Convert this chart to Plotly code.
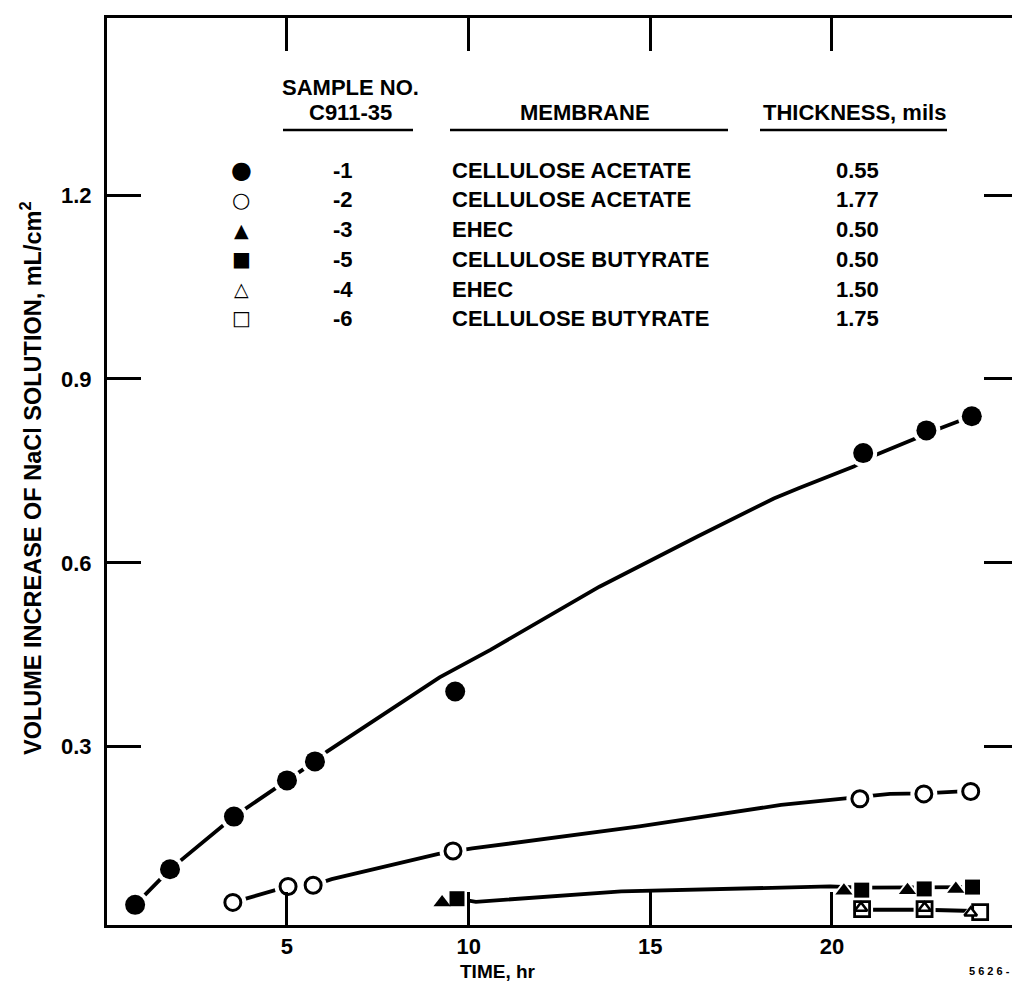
import plotly.graph_objects as go

# ---------------- data ----------------
# Sample -1 (filled circles), cellulose acetate 0.55 mil
s1_x = [0.82, 1.78, 3.54, 5.0, 5.77, 9.63, 20.86, 22.6, 23.85]
s1_y = [0.042, 0.10, 0.186, 0.245, 0.276, 0.39, 0.779, 0.816, 0.839]
# hand-drawn curve through sample -1
c1_x = [0.82, 1.78, 3.54, 5.0, 5.77, 6.1, 9.2, 10.6, 13.6, 16.3, 18.4, 19.1, 20.6, 21.2, 22.2, 23.0, 23.85]
c1_y = [0.042, 0.10, 0.186, 0.245, 0.276, 0.292, 0.413, 0.458, 0.561, 0.643, 0.705, 0.722, 0.757, 0.776, 0.801, 0.82, 0.839]

# Sample -2 (open circles), cellulose acetate 1.77 mil
s2_x = [3.51, 5.03, 5.72, 9.57, 20.77, 22.53, 23.82]
s2_y = [0.046, 0.072, 0.074, 0.13, 0.215, 0.223, 0.227]
c2_x = [3.51, 5.03, 5.72, 6.23, 9.17, 10.1, 14.7, 18.6, 20.1, 21.6, 22.53, 23.82]
c2_y = [0.046, 0.072, 0.074, 0.084, 0.125, 0.134, 0.170, 0.205, 0.214, 0.223, 0.224, 0.228]

# Sample -3 (filled triangles), EHEC 0.50 mil
s3_x = [9.27, 20.33, 22.08, 23.41]
s3_y = [0.046, 0.065, 0.066, 0.068]
# Sample -5 (filled squares), cellulose butyrate 0.50 mil
s5_x = [9.68, 20.82, 22.54, 23.87]
s5_y = [0.052, 0.066, 0.068, 0.071]
c3_x = [9.68, 10.2, 14.2, 19.95, 20.82, 22.54, 23.87]
c3_y = [0.052, 0.047, 0.064, 0.072, 0.070, 0.070, 0.071]

# Sample -4 (open triangles), EHEC 1.50 mil
s4_x = [20.8, 22.55, 23.82]
s4_y = [0.037, 0.037, 0.029]
# Sample -6 (open squares), cellulose butyrate 1.75 mil
s6_x = [20.83, 22.55, 24.08]
s6_y = [0.035, 0.035, 0.030]
c4_x = [20.83, 22.55, 23.9]
c4_y = [0.034, 0.034, 0.032]

x_ticks = [5, 10, 15, 20]
y_ticks = [0.3, 0.6, 0.9, 1.2]
y_tick_text = ["0.3", "0.6", "0.9", "1.2"]

legend_symbols = ["\u25CF", "\u25CB", "\u25B2", "\u25A0", "\u25B3", "\u25A1"]
legend_samples = ["-1", "-2", "-3", "-5", "-4", "-6"]
legend_membranes = ["CELLULOSE ACETATE", "CELLULOSE ACETATE", "EHEC",
                    "CELLULOSE BUTYRATE", "EHEC", "CELLULOSE BUTYRATE"]
legend_thickness = ["0.55", "1.77", "0.50", "0.50", "1.50", "1.75"]

# ---------------- layout geometry ----------------
W, H = 1012, 988
PL, PR, PT, PB = 107, 1012, 18, 925
FONT = "Liberation Sans"
BLACK = "#000000"


def px_x(px):
    return (px - PL) / (PR - PL)


def px_y(py):
    return (PB - py) / (PB - PT)


fig = go.Figure()

LINE_W = 3.8
for cx, cy in [(c1_x, c1_y), (c2_x, c2_y), (c3_x, c3_y), (c4_x, c4_y)]:
    fig.add_trace(go.Scatter(x=cx, y=cy, mode="lines",
                             line=dict(color=BLACK, width=LINE_W),
                             hoverinfo="skip", showlegend=False))

# white halos giving the gaps in the hand-drawn lines around each symbol
halos = [(s1_x, s1_y, "circle", 28), (s2_x, s2_y, "circle", 27),
         (s3_x, s3_y, "triangle-up", 21), (s5_x, s5_y, "square", 21),
         (s4_x, s4_y, "triangle-up", 17), (s6_x, s6_y, "square", 22)]
for hx, hy, sym, sz in halos:
    fig.add_trace(go.Scatter(x=hx, y=hy, mode="markers",
                             marker=dict(symbol=sym, size=sz, color="white", line=dict(width=0)),
                             hoverinfo="skip", showlegend=False))

# symbols
fig.add_trace(go.Scatter(x=s1_x, y=s1_y, mode="markers", name="-1",
                         marker=dict(symbol="circle", size=20, color=BLACK, line=dict(width=0))))
fig.add_trace(go.Scatter(x=s2_x, y=s2_y, mode="markers", name="-2",
                         marker=dict(symbol="circle", size=16, color="white",
                                     line=dict(color=BLACK, width=3))))
fig.add_trace(go.Scatter(x=s3_x, y=s3_y, mode="markers", name="-3",
                         marker=dict(symbol="triangle-up", size=15, color=BLACK, line=dict(width=0))))
fig.add_trace(go.Scatter(x=s5_x, y=s5_y, mode="markers", name="-5",
                         marker=dict(symbol="square", size=15, color=BLACK, line=dict(width=0))))
fig.add_trace(go.Scatter(x=s6_x, y=s6_y, mode="markers", name="-6",
                         marker=dict(symbol="square", size=15, color="white",
                                     line=dict(color=BLACK, width=2.8))))
fig.add_trace(go.Scatter(x=s4_x, y=s4_y, mode="markers", name="-4",
                         marker=dict(symbol="triangle-up", size=11, color="white",
                                     line=dict(color=BLACK, width=2.5))))

# tiny invisible trace to bring the right-hand tick axis to life
fig.add_trace(go.Scatter(x=s1_x[:1], y=s1_y[:1], yaxis="y2", mode="lines",
                         line=dict(width=0), hoverinfo="skip", showlegend=False))

XR = [(PL - 105.33) / 36.33, (PR - 105.33) / 36.33]
YR = [(930.6 - PB) / 613.0, (930.6 - PT) / 613.0]

tickfont = dict(family=FONT, size=22, color=BLACK, weight="bold")

fig.update_layout(
    width=W, height=H,
    margin=dict(l=PL, r=W - PR, t=PT, b=H - PB),
    paper_bgcolor="white", plot_bgcolor="white",
    showlegend=False,
    xaxis=dict(range=XR, tickmode="array", tickvals=x_ticks,
               ticks="inside", ticklen=33, tickwidth=2.5, tickcolor=BLACK,
               showline=True, linewidth=3, linecolor=BLACK, mirror="ticks",
               showgrid=False, zeroline=False, tickfont=tickfont,
               ticklabelstandoff=0),
    yaxis=dict(range=YR, tickmode="array", tickvals=y_ticks, ticktext=y_tick_text,
               ticks="inside", ticklen=34, tickwidth=2.5, tickcolor=BLACK,
               showline=True, linewidth=3, linecolor=BLACK, mirror=False,
               showgrid=False, zeroline=False, tickfont=tickfont,
               ticklabelstandoff=8),
    yaxis2=dict(range=YR, overlaying="y", side="right", tickmode="array", tickvals=y_ticks,
                ticks="inside", ticklen=28, tickwidth=2.5, tickcolor=BLACK,
                showline=False, showgrid=False, zeroline=False, showticklabels=False),
)

ann = []
# axis titles
ann.append(dict(text="VOLUME INCREASE OF NaCl SOLUTION, mL/cm<sup>2</sup>",
                x=px_x(31), y=px_y(478), xref="paper", yref="paper", textangle=-90,
                showarrow=False, xanchor="center", yanchor="middle",
                font=dict(family=FONT, size=23.5, color=BLACK, weight="bold")))
ann.append(dict(text="TIME, hr", x=px_x(498), y=px_y(971), xref="paper", yref="paper",
                showarrow=False, xanchor="center", yanchor="middle",
                font=dict(family=FONT, size=19, color=BLACK, weight="bold")))
ann.append(dict(text="5 6 2 6 -", x=1.0, y=px_y(971), xref="paper", yref="paper",
                showarrow=False, xanchor="right", yanchor="middle",
                font=dict(family=FONT, size=11, color=BLACK, weight="bold")))

# legend table
LF = dict(family=FONT, size=22, color=BLACK, weight="bold")
SAMPLE_CX, NUM_CX, MEM_LX, MEM_CX, TH_CX, SYM_CX = 350, 343, 450, 585, 857, 241
ann.append(dict(text="SAMPLE NO.", x=px_x(SAMPLE_CX), y=px_y(87), xref="paper", yref="paper",
                showarrow=False, xanchor="center", yanchor="middle", font=LF))
ann.append(dict(text="C911-35", x=px_x(SAMPLE_CX), y=px_y(112), xref="paper", yref="paper",
                showarrow=False, xanchor="center", yanchor="middle", font=LF))
ann.append(dict(text="MEMBRANE", x=px_x(MEM_CX), y=px_y(112), xref="paper", yref="paper",
                showarrow=False, xanchor="center", yanchor="middle", font=LF))
ann.append(dict(text="THICKNESS, mils", x=px_x(TH_CX - 3), y=px_y(112), xref="paper", yref="paper",
                showarrow=False, xanchor="center", yanchor="middle", font=LF))

row_y = [170, 200, 230, 259, 289, 318]
sym_sizes = [24, 21, 19, 20, 19, 20]
for i in range(len(legend_samples)):
    yy = px_y(row_y[i])
    ann.append(dict(text=legend_symbols[i], x=px_x(SYM_CX), y=yy, xref="paper", yref="paper",
                    showarrow=False, xanchor="center", yanchor="middle",
                    font=dict(family="DejaVu Sans", size=sym_sizes[i], color=BLACK, weight="bold")))
    ann.append(dict(text=legend_samples[i], x=px_x(NUM_CX), y=yy, xref="paper", yref="paper",
                    showarrow=False, xanchor="center", yanchor="middle", font=LF))
    ann.append(dict(text=legend_membranes[i], x=px_x(MEM_LX), y=yy, xref="paper", yref="paper",
                    showarrow=False, xanchor="left", yanchor="middle", font=LF))
    ann.append(dict(text=legend_thickness[i], x=px_x(TH_CX), y=yy, xref="paper", yref="paper",
                    showarrow=False, xanchor="center", yanchor="middle", font=LF))

fig.update_layout(annotations=ann)

# header underlines
shapes = []
for x0, x1 in [(283, 413), (450, 728), (760, 947)]:
    shapes.append(dict(type="line", xref="paper", yref="paper",
                       x0=px_x(x0), x1=px_x(x1), y0=px_y(130), y1=px_y(130),
                       line=dict(color=BLACK, width=2.5)))
fig.update_layout(shapes=shapes)

fig.write_html("out.html", config={"displayModeBar": False},
               post_script="document.body.style.margin='0';document.body.style.overflow='hidden';")
